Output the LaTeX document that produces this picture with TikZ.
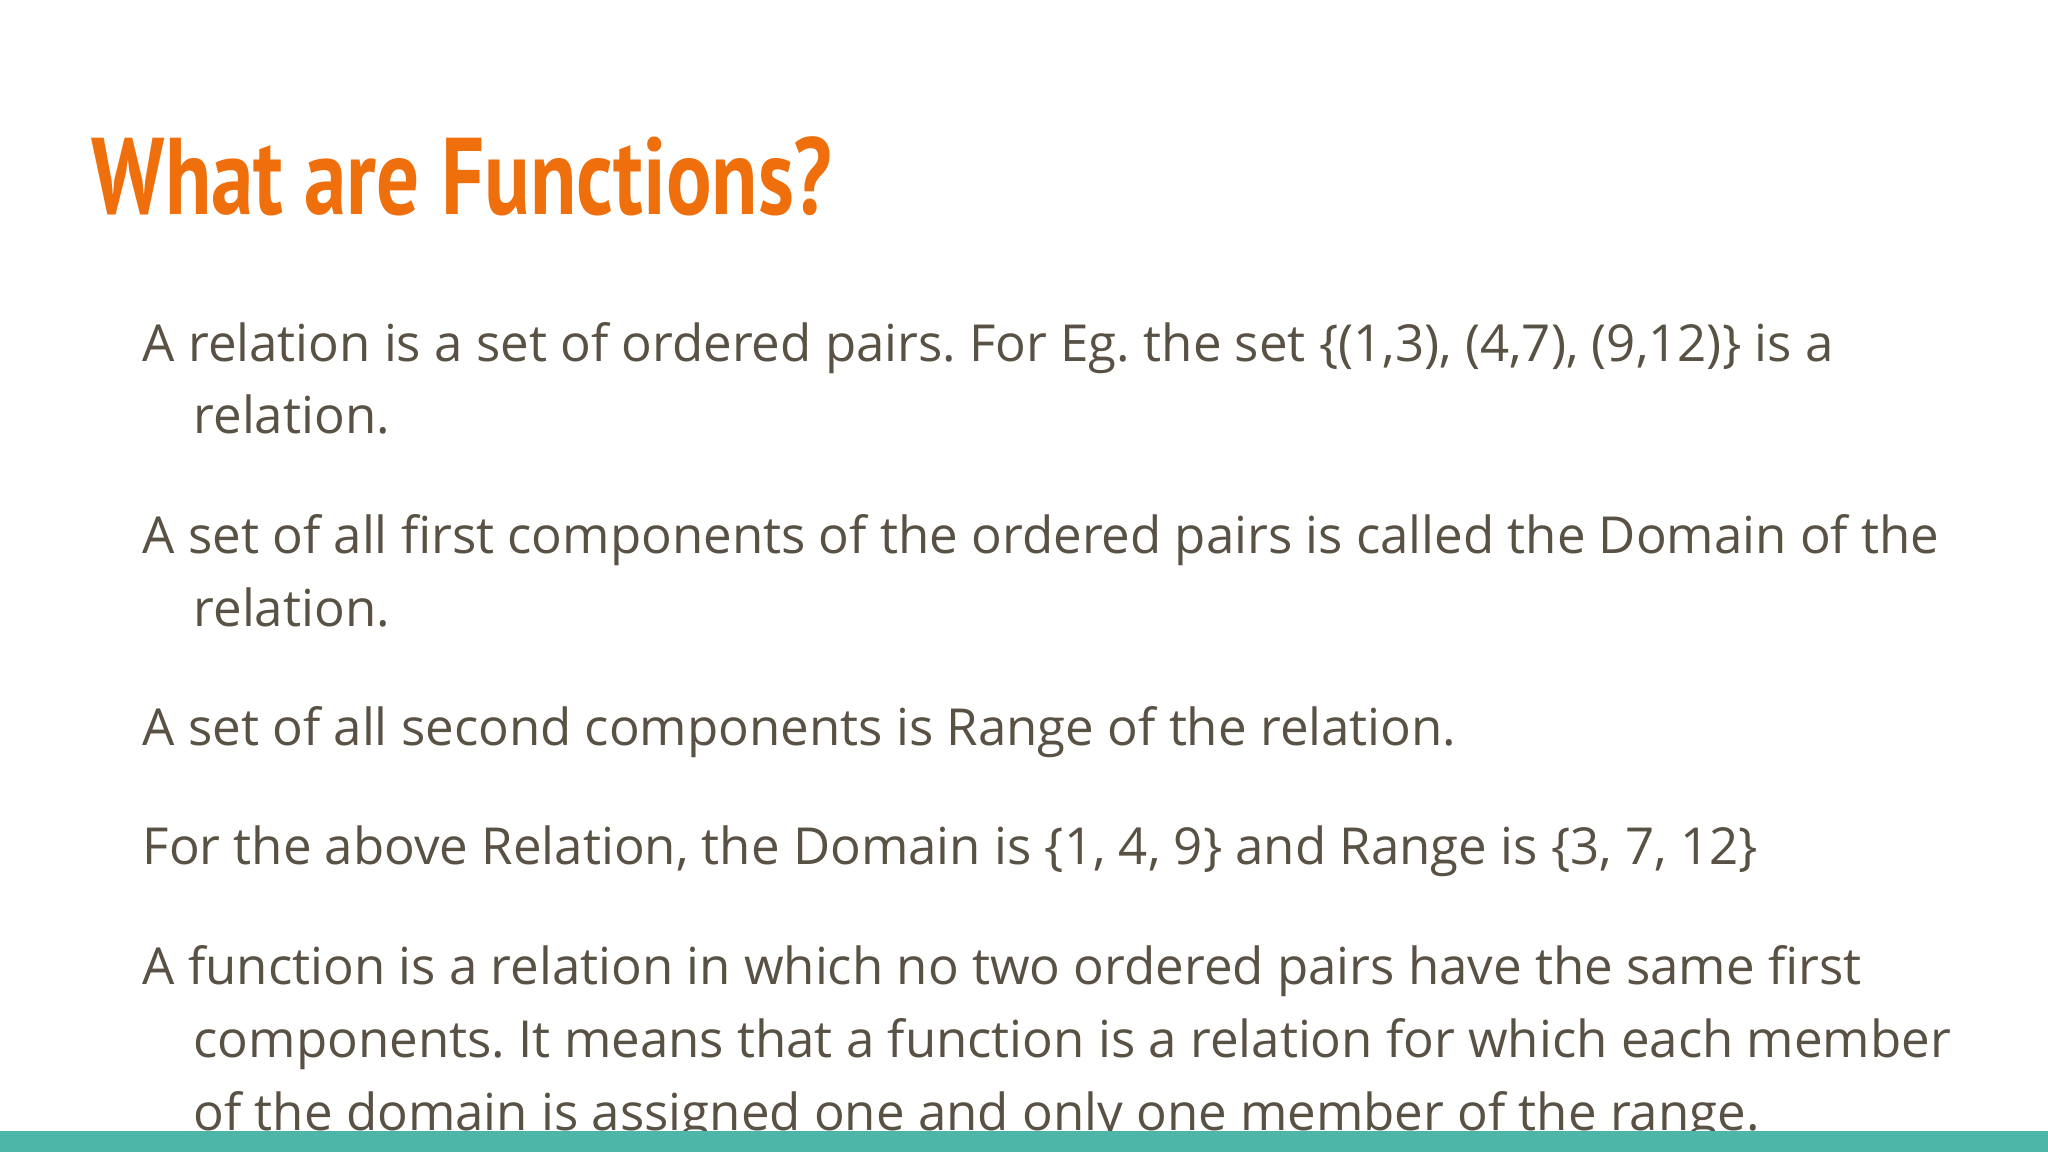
\documentclass[tikz,border=0pt]{standalone}
\usepackage{fontspec}
\setmainfont{Open Sans}
\newfontfamily\titlefont[FakeStretch=0.78]{PT Sans}
\definecolor{titleor}{HTML}{EE6F0C}
\definecolor{bodytx}{HTML}{595143}
\definecolor{barteal}{HTML}{4DB6A8}
\frenchspacing
\begin{document}
\begin{tikzpicture}[x=0.01cm,y=0.01cm,
  ln/.style={anchor=base west,inner sep=0,text=bodytx,font=\fontsize{14.5pt}{17pt}\selectfont}]
\useasboundingbox (0,0) rectangle (2048,1152);
\fill[white] (0,0) rectangle (2048,1152);
\node[anchor=base west,inner sep=0,text=titleor,font=\titlefont\bfseries\fontsize{31pt}{36pt}\selectfont] (title) at (91,937) {What are Functions?};
\node[ln] (l1) at (142,790) {A relation is a set of ordered pairs. For Eg. the set \{(1,3), (4,7), (9,12)\} is a};
\node[ln] (l2) at (193,718) {relation.};
\node[ln] (l3) at (142,598) {A set of all first components of the ordered pairs is called the Domain of the};
\node[ln] (l4) at (193,525) {relation.};
\node[ln] (l5) at (142,406) {A set of all second components is Range of the relation.};
\node[ln] (l6) at (142,287) {For the above Relation, the Domain is \{1, 4, 9\} and Range is \{3, 7, 12\}};
\node[ln] (l7) at (142,167) {A function is a relation in which no two ordered pairs have the same first};
\node[ln] (l8) at (193,94) {components. It means that a function is a relation for which each member};
\node[ln] (l9) at (193,21) {of the domain is assigned one and only one member of the range.};
\fill[barteal] (0,0) rectangle (2048,21);
\end{tikzpicture}
\end{document}
